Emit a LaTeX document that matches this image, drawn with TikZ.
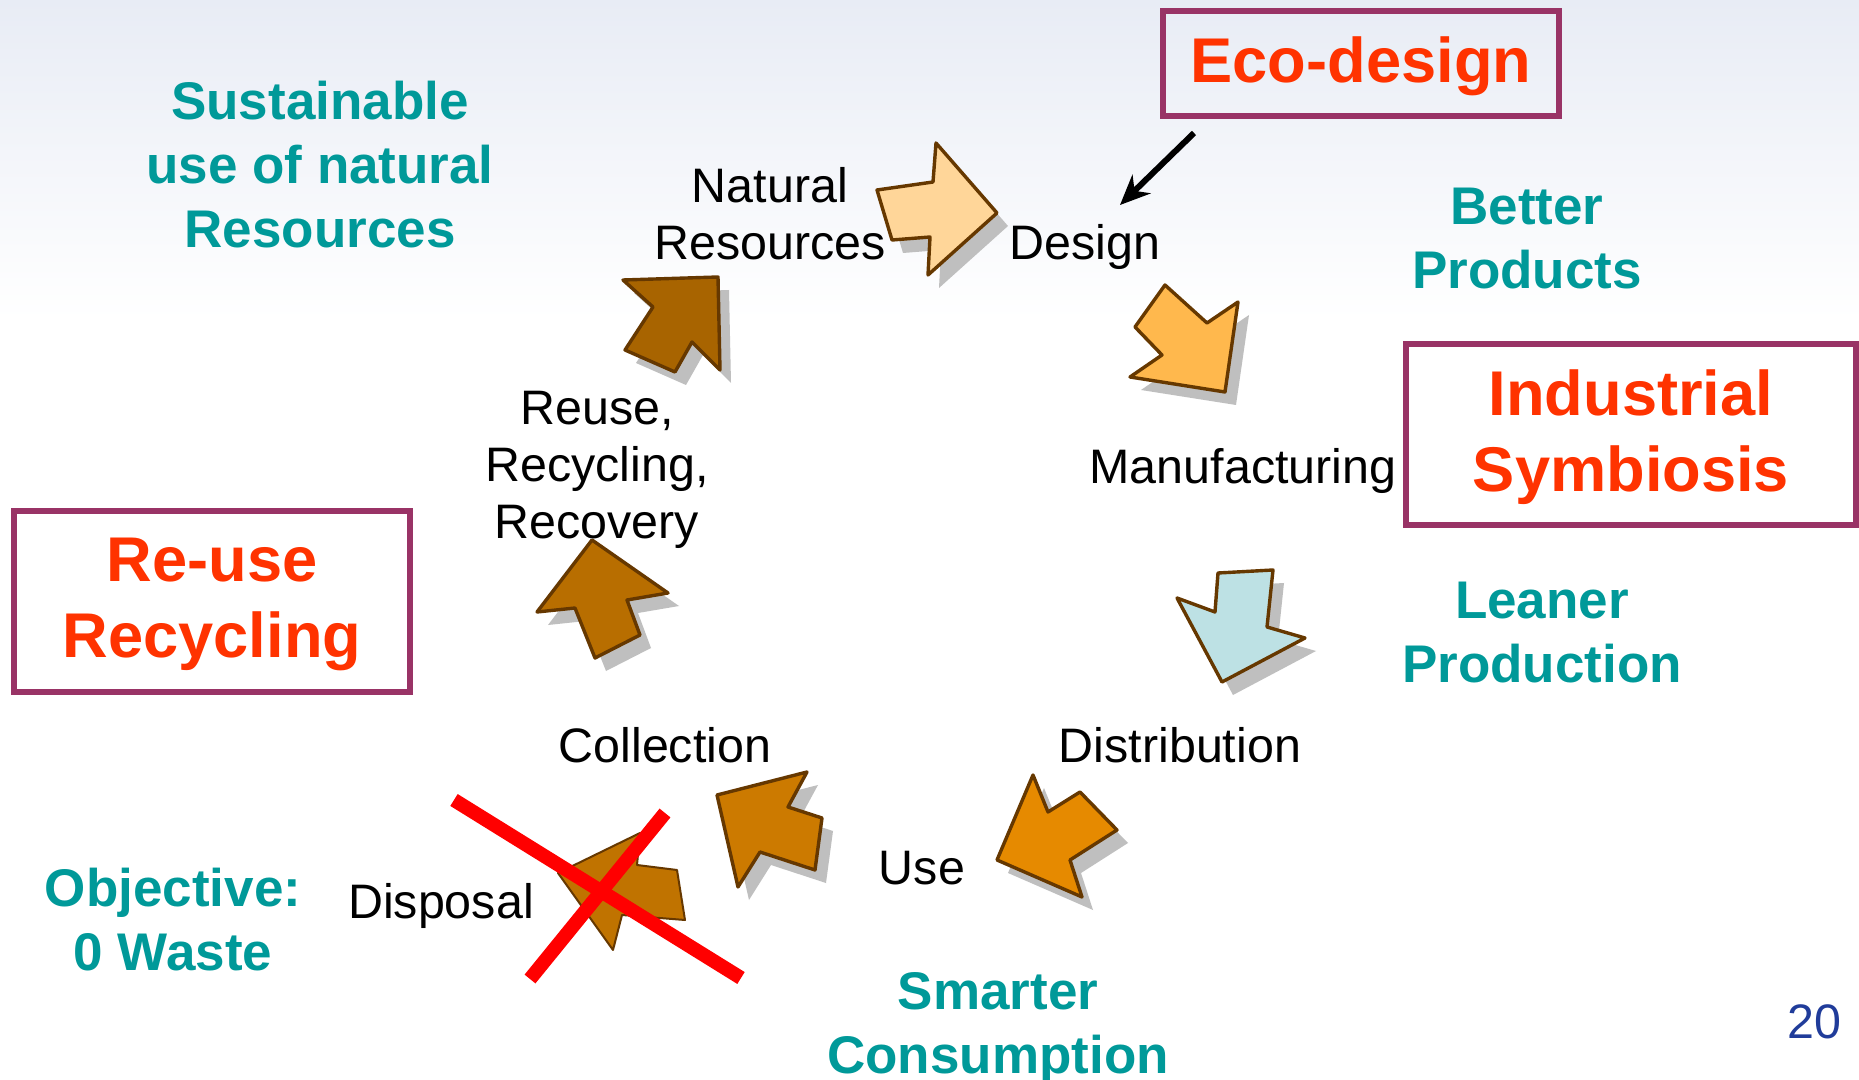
\documentclass[tikz,border=0pt]{standalone}
\usepackage{fontspec}
\setmainfont{Liberation Sans}
\usepackage{tikz}
\usetikzlibrary{arrows.meta}
\usetikzlibrary{positioning}
\definecolor{goalteal}{HTML}{009999}
\definecolor{boxred}{HTML}{FF3300}
\definecolor{boxframe}{HTML}{993366}
\definecolor{edgebrown}{HTML}{663800}
\definecolor{pagenum}{HTML}{203C9A}
\definecolor{bgtop}{HTML}{E8ECF5}
\definecolor{stepA}{HTML}{FFD699}
\definecolor{stepB}{HTML}{FFB84D}
\definecolor{stepC}{HTML}{BDE1E4}
\definecolor{stepD}{HTML}{E68A00}
\definecolor{stepE}{HTML}{CC7A00}
\definecolor{stepF}{HTML}{B86E00}
\definecolor{stepG}{HTML}{A86400}
\definecolor{stepX}{HTML}{C07300}
\tikzset{stage/.style = {font=\fontsize{24.2}{28.5}\selectfont, align=center,
                         text depth=0pt, inner sep=0}}
\tikzset{goal/.style = {font=\bfseries\fontsize{26.5}{32}\selectfont, text=goalteal,
                        align=center, text depth=0pt, inner sep=0}}
\tikzset{framed/.style = {draw=boxframe, line width=3pt, text=boxred, align=center,
                          font=\bfseries\fontsize{31.6}{38}\selectfont,
                          text depth=3.5pt, inner sep=0}}
\tikzset{shadowfill/.style = {fill=gray!50}}
\tikzset{blockedge/.style = {draw=edgebrown, line width=1.7pt, line join=round}}
\tikzset{pointer/.style = {line width=3pt, -{Stealth[length=15pt, width=13pt]}}}
\tikzset{cross/.style = {draw=red, line width=7pt}}
\newcommand{\cyclearrow}[2]{%
  \fill [shadowfill, shift={(11, 13)}] #2 -- cycle;
  \filldraw [blockedge, fill=#1] #2 -- cycle;}

\begin{document}
\begin{tikzpicture}[x=0.5pt, y=-0.5pt]
      \useasboundingbox (0, 0) rectangle (1859, 1080);
      \fill [white] (0, 0) rectangle (1859, 1080);
      \shade [top color=bgtop, bottom color=white] (0, 0) rectangle (1859, 320);

      % cycle arrows
      \cyclearrow{stepA}{(877, 190) -- (933, 182) -- (936, 143) -- (997, 213)
        -- (928, 275) -- (930, 237) -- (892, 240)}
      \cyclearrow{stepB}{(1165, 285) -- (1207, 323) -- (1238, 302) -- (1225, 392)
        -- (1130, 377) -- (1162, 355) -- (1135, 327)}
      \cyclearrow{stepC}{(1218, 573) -- (1273, 570) -- (1267, 627) -- (1305, 638)
        -- (1222, 682) -- (1177, 598) -- (1215, 612)}
      \cyclearrow{stepD}{(1033, 775) -- (1048, 812) -- (1080, 792) -- (1117, 830)
        -- (1070, 860) -- (1082, 897) -- (997, 860)}
      \cyclearrow{stepE}{(717, 795) -- (807, 772) -- (788, 807) -- (822, 818)
        -- (815, 870) -- (760, 852) -- (738, 887)}
      \cyclearrow{stepF}{(592, 540) -- (668, 593) -- (627, 600) -- (640, 635)
        -- (595, 658) -- (575, 608) -- (537, 612)}
      \cyclearrow{stepG}{(623, 280) -- (718, 277) -- (720, 370) -- (692, 342)
        -- (675, 372) -- (625, 350) -- (653, 307)}
      \filldraw [blockedge, line width=1pt, fill=stepX] (558, 873) -- (640, 833)
        -- (637, 865) -- (677, 870) -- (685, 920) -- (622, 915) -- (613, 950) -- cycle;

      \node (natural) at (770, 213.5) [stage] {Natural\\Resources};
      \node (design) at (1085, 241.5) [stage] {Design};
      \node (manufacturing) at (1243, 466) [stage] {Manufacturing};
      \node (distribution) at (1180, 745) [stage] {Distribution};
      \node (use) at (922, 868) [stage] {Use};
      \node (collection) at (665, 745) [stage] {Collection};
      \node (disposal) at (441, 901) [stage] {Disposal};
      \node (reuse) at (597, 465) [stage] {Reuse,\\Recycling,\\Recovery};

      \node (sustainable) at (320, 164) [goal] {Sustainable\\use of natural\\Resources};
      \node (better) at (1527, 238) [goal] {Better\\Products};
      \node (leaner) at (1542, 632) [goal] {Leaner\\Production};
      \node (smarter) at (998, 1023) [goal] {Smarter\\Consumption};
      \node (objective) at (173, 919) [goal] {Objective:\\0 Waste};

      \node (ecodesign) at (1361, 63.5) [framed, minimum width=198pt, minimum height=52.5pt]
        {Eco-design};
      \node (symbiosis) at (1631, 434.5) [framed, minimum width=225pt, minimum height=90.5pt]
        {Industrial\\Symbiosis};
      \node (recycling) at (212, 601.5) [framed, minimum width=198pt, minimum height=90.5pt]
        {Re-use\\Recycling};

      \coordinate (ecotail) at (1194, 133);
      \coordinate (ecotip) at (1120, 205);
      \draw [pointer] (ecotail) -- (ecotip);

      % no disposal
      \draw [cross] (454, 800) -- (741, 978);
      \draw [cross] (665, 813) -- (530, 979);

      \node (page) at (1814, 1022) [stage, text=pagenum] {20};
    \end{tikzpicture}
\end{document}
